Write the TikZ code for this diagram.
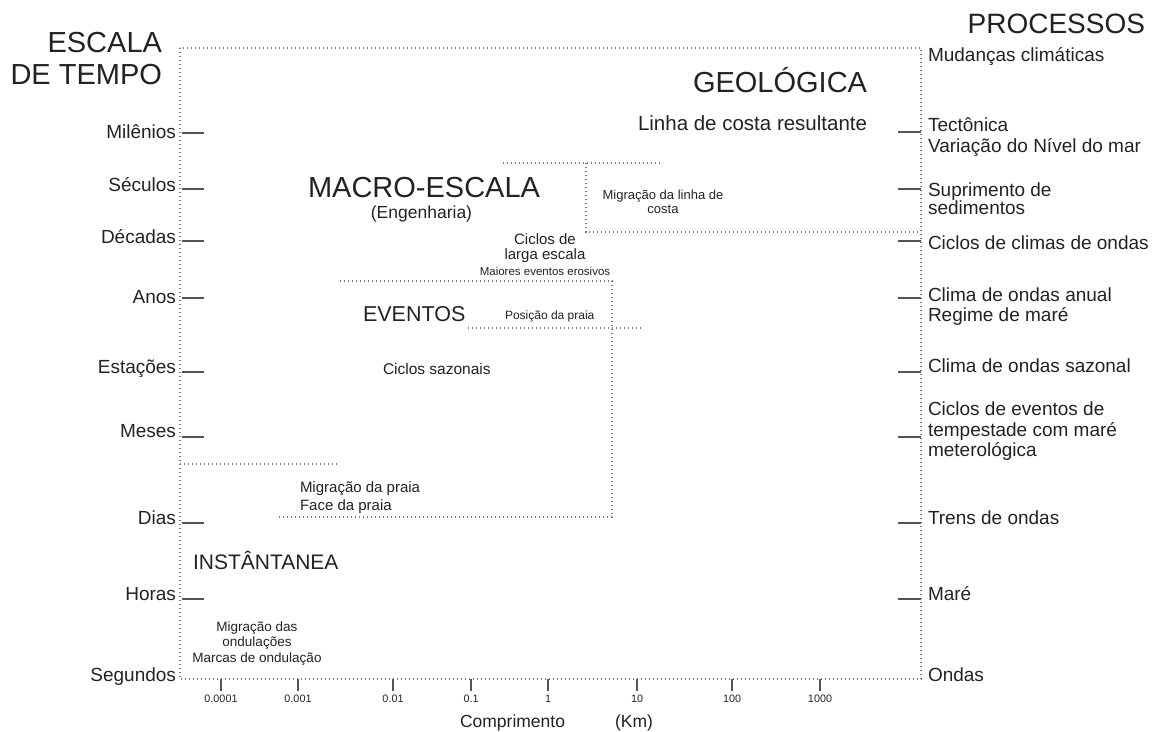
\documentclass[tikz,border=0pt]{standalone}
\usepackage{fontspec}
\setmainfont{Liberation Sans}
\newcommand\fsz[1]{\fontsize{#1}{#1}\selectfont}
\definecolor{ink}{HTML}{222222}
\definecolor{dotc}{HTML}{777777}
\definecolor{tickc}{HTML}{555555}
\tikzset{
  txt/.style={inner sep=0pt, outer sep=0pt, text=ink},
  lab/.style={txt, font=\fsz{19}},
  dotl/.style={draw=dotc, line width=1.1pt, dash pattern=on 1.1pt off 2.9pt},
  tickl/.style={draw=tickc, line width=1.4pt},
}
\begin{document}
\begin{tikzpicture}[x=1pt, y=-1pt]
\useasboundingbox (0,0) rectangle (1161,731);

% frame
\draw[dotl] (180,48) rectangle (921,679);

% inner dotted boundaries
\draw[dotl] (503,163) -- (662,163);
\draw[dotl] (586,163) -- (586,232) -- (921,232);
\draw[dotl] (340,281) -- (612,281) -- (612,517) -- (278,517);
\draw[dotl] (468,328) -- (642,328);
\draw[dotl] (180,464) -- (338,464);

% titles
\node[txt, font=\fsz{29}, anchor=base east] (t1) at (162,52) {ESCALA};
\node[txt, font=\fsz{29}, anchor=base east] (t2) at (162,84) {DE TEMPO};
\node[txt, font=\fsz{28}, anchor=base east] (t3) at (1145,33) {PROCESSOS};

% left time labels and ticks
\foreach \n/\yb/\yt/\s in {a/138/133/Milênios, b/191/189/Séculos, c/243/241/Décadas,
  d/303/298/Anos, e/373/372/Estações, f/437/437/Meses, g/524/523/Dias, h/600/599/Horas}{
  \node[lab, anchor=base east] (L\n) at (176,\yb) {\s};
  \draw[tickl] (182,\yt) -- (204,\yt);
}
\node[lab, anchor=base east] (Li) at (176,681) {Segundos};

% right ticks
\foreach \yt in {132,189,241,298,372,437,523,599}{
  \draw[tickl] (898,\yt) -- (921,\yt);
}

% right process labels
\foreach \n/\yb/\s in {r1/61/Mudanças climáticas, r2/131/Tectônica, r3/152/Variação do Nível do mar,
  r4/196/Suprimento de, r5/214/sedimentos, r6/249/Ciclos de climas de ondas,
  r7/301/Clima de ondas anual, r8/321/Regime de maré, r9/372/Clima de ondas sazonal,
  r10/415/Ciclos de eventos de, r11/436/tempestade com maré, r12/456/meterológica,
  r13/524/Trens de ondas, r14/600/Maré, r15/681/Ondas}{
  \node[lab, anchor=base west] (\n) at (928,\yb) {\s};
}

% region labels
\node[txt, font=\fsz{29}, anchor=base west] (geo) at (693,92) {GEOLÓGICA};
\node[txt, font=\fsz{20.5}, anchor=base west] (lcr) at (638,130) {Linha de costa resultante};
\node[txt, font=\fsz{13}, anchor=base] (mlc1) at (663,199) {Migração da linha de};
\node[txt, font=\fsz{13}, anchor=base] (mlc2) at (663,213) {costa};

\node[txt, font=\fsz{29}, anchor=base west] (macro) at (308,197) {MACRO-ESCALA};
\node[txt, font=\fsz{17.5}, anchor=base] (eng) at (421.5,218) {(Engenharia)};
\node[txt, font=\fsz{15}, anchor=base] (cl1) at (545,244) {Ciclos de};
\node[txt, font=\fsz{15}, anchor=base] (cl2) at (545,259) {larga escala};
\node[txt, font=\fsz{11.5}, anchor=base] (mee) at (545,275) {Maiores eventos erosivos};

\node[txt, font=\fsz{21.5}, anchor=base west] (ev) at (363,321) {EVENTOS};
\node[txt, font=\fsz{12}, anchor=base west] (pp) at (505,319) {Posição da praia};
\node[txt, font=\fsz{15.5}, anchor=base west] (cs) at (383,374) {Ciclos sazonais};
\node[txt, font=\fsz{15}, anchor=base west] (mp) at (300,492) {Migração da praia};
\node[txt, font=\fsz{15}, anchor=base west] (fp) at (300,510) {Face da praia};

\node[txt, font=\fsz{21}, anchor=base west] (inst) at (193,569) {INSTÂNTANEA};
\node[txt, font=\fsz{13.5}, anchor=base] (mo1) at (257,631) {Migração das};
\node[txt, font=\fsz{13.5}, anchor=base] (mo2) at (257,646) {ondulações};
\node[txt, font=\fsz{13.5}, anchor=base] (mo3) at (257,662) {Marcas de ondulação};

% bottom axis
\foreach \n/\x/\s in {x1/221/0.0001, x2/298/0.001, x3/393/0.01, x4/471/0.1,
  x5/548/1, x6/637/10, x7/732/100, x8/820/1000}{
  \draw[tickl, line width=1.1pt] (\x,679) -- (\x,691);
  \node[txt, font=\fsz{10.8}, anchor=base] (\n) at (\x,702) {\s};
}
\node[txt, font=\fsz{17.5}, anchor=base west] (comp) at (460,727) {Comprimento};
\node[txt, font=\fsz{17.5}, anchor=base west] (km) at (615,727) {(Km)};
\end{tikzpicture}
\end{document}
